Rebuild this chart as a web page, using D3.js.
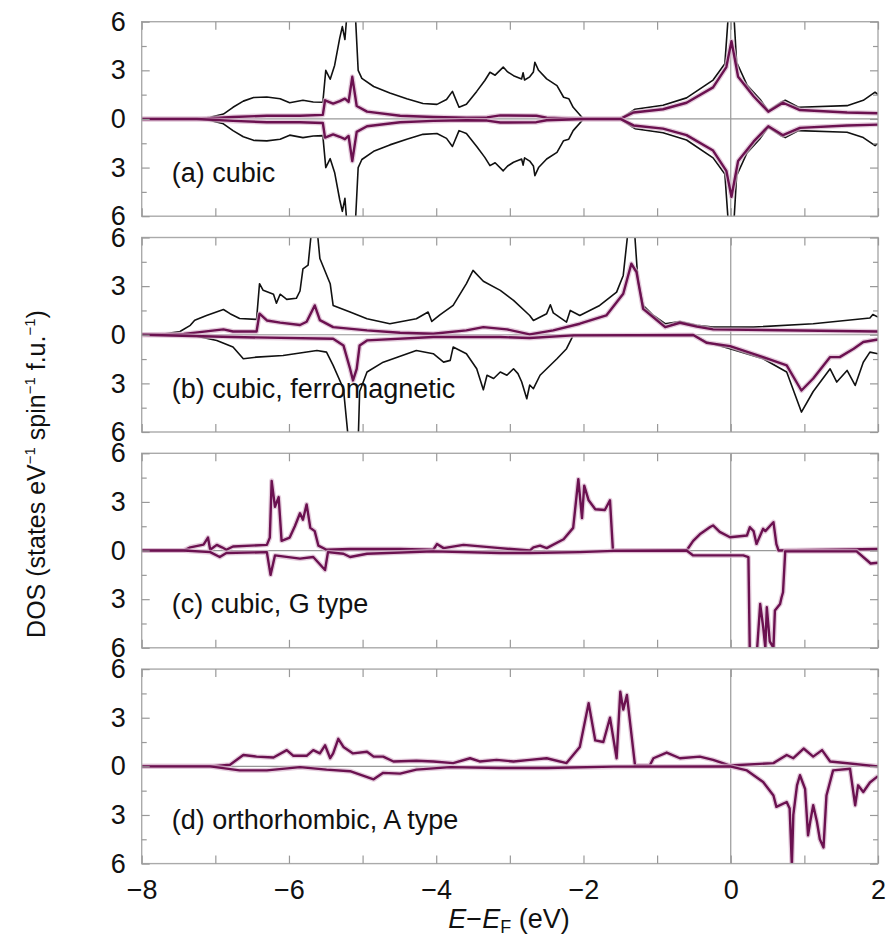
<!DOCTYPE html>
<html>
<head>
<meta charset="utf-8">
<script src="https://cdn.jsdelivr.net/npm/d3@7"></script>
<style>
	body { margin: 0; background: #fff; }
	text { font-family: "Liberation Sans", Arial, Helvetica, sans-serif; fill: #111; }
</style>
</head>
<body>
<div class="chart"></div>
<script>
// energies in eV, DOS in states/eV/spin/f.u.
const cubicTotal = [[-8,0],[-7.25,0],[-7.07,0.1],[-6.89,0.3],[-6.76,0.72],[-6.62,1.1],[-6.48,1.32],[-6.3,1.35],[-6.12,1.25],[-5.99,1.0],[-5.81,1.15],[-5.67,1.05],[-5.54,1.03],[-5.5,3.0],[-5.44,2.45],[-5.38,3.3],[-5.31,5.0],[-5.275,5.7],[-5.24,4.9],[-5.21,6.6],[-5.1,6.6],[-5.06,3.0],[-5.01,2.5],[-4.85,2.0],[-4.63,1.6],[-4.4,1.25],[-4.18,0.95],[-3.99,0.9],[-3.86,1.2],[-3.78,1.7],[-3.69,0.72],[-3.59,0.9],[-3.45,1.7],[-3.34,2.37],[-3.27,2.88],[-3.2,2.7],[-3.09,3.2],[-3.03,2.9],[-2.95,2.67],[-2.84,2.47],[-2.82,2.85],[-2.8,2.4],[-2.73,2.6],[-2.68,2.9],[-2.66,3.5],[-2.61,3.0],[-2.5,2.47],[-2.36,2.06],[-2.27,1.34],[-2.2,1.25],[-2.14,0.72],[-2.0,0],[-1.5,0],[-1.35,0.45],[-1.3,0.6],[-0.92,0.85],[-0.6,1.3],[-0.24,2.4],[-0.08,3.4],[-0.03,6.6],[0.04,6.6],[0.08,3.5],[0.22,2.1],[0.4,1.2],[0.51,0.5],[0.69,1.05],[0.74,1.15],[0.92,0.72],[1.58,0.82],[1.8,1.15],[1.96,1.65],[2.0,1.5]];
const cubicMn = [[-8,0],[-7.25,0],[-6.76,0.12],[-6.3,0.2],[-5.85,0.2],[-5.54,0.25],[-5.51,1.15],[-5.4,0.95],[-5.31,1.1],[-5.24,1.25],[-5.19,1.05],[-5.14,2.6],[-5.08,0.8],[-4.94,0.45],[-4.49,0.2],[-4.04,0.12],[-3.59,0.08],[-3.31,0.1],[-3.13,0.22],[-2.64,0.2],[-2.5,0.08],[-2.0,0],[-1.5,0],[-1.32,0.4],[-0.92,0.6],[-0.6,1.0],[-0.24,1.95],[-0.06,3.2],[0.01,4.8],[0.1,2.6],[0.31,1.4],[0.51,0.45],[0.71,1.0],[0.94,0.55],[1.58,0.4],[2.0,0.35]];

const fmTotalUp = [[-8,0],[-7.75,0.02],[-7.48,0.2],[-7.34,0.58],[-7.28,0.9],[-7.12,1.19],[-6.89,1.56],[-6.8,1.3],[-6.67,1.0],[-6.44,0.95],[-6.4,3.15],[-6.35,2.74],[-6.21,2.5],[-6.17,1.95],[-6.12,2.5],[-6.03,2.18],[-5.9,2.25],[-5.85,2.7],[-5.81,4.07],[-5.74,4.3],[-5.69,6.6],[-5.62,6.6],[-5.58,4.7],[-5.44,3.15],[-5.4,1.81],[-5.17,1.4],[-4.94,0.99],[-4.63,0.68],[-4.27,0.99],[-4.11,1.4],[-4.06,0.82],[-3.95,1.23],[-3.77,1.81],[-3.59,3.15],[-3.5,3.97],[-3.36,3.3],[-3.13,2.74],[-3.04,2.43],[-2.95,2.12],[-2.73,1.19],[-2.68,0.88],[-2.5,1.3],[-2.45,1.85],[-2.41,1.35],[-2.23,0.78],[-2.18,1.5],[-2.05,1.19],[-1.78,1.81],[-1.55,2.63],[-1.46,3.66],[-1.39,6.6],[-1.31,6.6],[-1.26,3.3],[-1.19,1.81],[-1.05,1.19],[-0.89,0.68],[-0.69,0.82],[-0.46,0.58],[-0.24,0.47],[0.31,0.47],[1.12,0.68],[1.89,1.03],[1.93,1.25],[2.0,1.09]];
const fmMnUp = [[-8,0],[-7.43,0.05],[-7.21,0.16],[-6.89,0.33],[-6.76,0.2],[-6.44,0.2],[-6.4,1.3],[-6.3,0.88],[-6.12,0.75],[-5.85,0.6],[-5.76,0.8],[-5.65,1.81],[-5.58,0.9],[-5.4,0.47],[-4.94,0.27],[-4.49,0.12],[-4.04,0.06],[-3.59,0.27],[-3.36,0.47],[-3.04,0.33],[-2.73,0.02],[-2.41,0.27],[-2.05,0.68],[-1.69,1.19],[-1.46,2.53],[-1.35,4.38],[-1.28,3.87],[-1.19,1.6],[-0.89,0.47],[-0.69,0.74],[-0.46,0.5],[-0.24,0.33],[2.0,0.2]];
const fmTotalDown = [[-8,0],[-7.3,0.04],[-6.98,0.35],[-6.76,0.76],[-6.62,1.48],[-6.44,1.38],[-6.08,1.28],[-5.62,0.97],[-5.49,1.07],[-5.4,1.89],[-5.26,3.33],[-5.19,6.6],[-5.06,6.6],[-5.04,3.5],[-4.94,2.3],[-4.72,1.69],[-4.27,0.97],[-4.04,1.17],[-3.9,1.69],[-3.81,1.58],[-3.77,0.76],[-3.59,1.17],[-3.45,2.1],[-3.36,3.4],[-3.31,2.5],[-3.22,2.7],[-3.13,2.3],[-3.04,2.5],[-2.95,2.1],[-2.89,2.4],[-2.84,2.9],[-2.77,3.95],[-2.73,3.1],[-2.68,3.33],[-2.59,2.5],[-2.36,1.48],[-2.23,0.86],[-2.14,0.04],[-0.51,0],[-0.33,0.45],[-0.01,0.86],[0.44,1.48],[0.76,2.3],[0.96,4.77],[1.12,3.5],[1.35,2.1],[1.44,2.92],[1.58,2.2],[1.69,3.13],[1.8,1.7],[1.89,1.07],[2.0,1.17]];
const fmMnDown = [[-8,0],[-6.76,0.14],[-5.4,0.25],[-5.26,0.66],[-5.17,2.1],[-5.13,2.82],[-5.08,2.1],[-5.04,0.66],[-4.94,0.35],[-4.04,0.14],[-3.13,0.14],[-2.73,0.2],[-2.14,0.04],[-0.51,0.02],[-0.33,0.49],[-0.01,0.7],[0.44,1.38],[0.76,1.89],[0.96,3.44],[1.12,2.7],[1.35,1.38],[1.48,1.38],[1.67,0.86],[1.8,0.45],[2.0,0.29]];

const gUp = [[-8,0],[-7.43,0],[-7.34,0.2],[-7.16,0.37],[-7.1,0.8],[-7.07,0.05],[-6.98,0.35],[-6.91,0.2],[-6.85,0.05],[-6.76,0.25],[-6.3,0.35],[-6.26,0.8],[-6.235,4.3],[-6.19,2.7],[-6.14,3.3],[-6.1,0.6],[-5.99,0.8],[-5.92,1.5],[-5.85,2.3],[-5.81,1.9],[-5.76,2.85],[-5.71,1.4],[-5.65,1.2],[-5.6,0.3],[-5.49,0.05],[-5.17,0.1],[-4.49,0.1],[-4.04,0.05],[-3.99,0.4],[-3.9,0.15],[-3.63,0.35],[-3.13,0.15],[-2.73,0.0],[-2.68,0.2],[-2.59,0.3],[-2.5,0.15],[-2.27,0.7],[-2.14,1.4],[-2.07,4.4],[-2.02,2.0],[-1.99,4.0],[-1.93,3.1],[-1.84,2.55],[-1.71,2.5],[-1.64,3.1],[-1.6,0],[-0.6,0],[-0.51,0.6],[-0.42,1.0],[-0.28,1.45],[-0.24,1.55],[-0.15,1.15],[-0.01,0.82],[0.22,0.93],[0.26,1.44],[0.31,1.2],[0.35,0.41],[0.44,1.34],[0.47,1.2],[0.56,1.65],[0.58,1.75],[0.62,0.4],[0.65,0],[2.0,0.1]];
const gDown = [[-8,0],[-7.43,0],[-7.07,0.1],[-6.94,0.4],[-6.85,0.15],[-6.3,0.1],[-6.25,1.5],[-6.19,0.3],[-5.85,0.5],[-5.67,0.4],[-5.51,1.2],[-5.47,0.1],[-5.26,0.2],[-5.17,0.4],[-4.94,0.2],[-4.04,0.05],[-3.13,0.15],[-2.73,0.15],[-2.05,0.1],[-1.59,0.02],[-0.6,0],[-0.51,0.3],[-0.24,0.3],[0.17,0.3],[0.24,0.4],[0.26,6.6],[0.35,6.6],[0.4,3.3],[0.44,4.7],[0.47,6.0],[0.49,3.5],[0.53,5.6],[0.58,6.0],[0.6,3.7],[0.67,3.3],[0.69,2.9],[0.71,2.57],[0.74,0.05],[1.71,0.05],[1.85,0.6],[1.9,0.8],[2.0,0.75]];

const aUp = [[-8,0],[-7.07,0],[-6.8,0.1],[-6.62,0.7],[-6.44,0.6],[-6.21,0.55],[-6.03,1.0],[-5.94,0.65],[-5.76,0.65],[-5.67,1.0],[-5.58,0.8],[-5.51,1.3],[-5.44,0.5],[-5.4,0.8],[-5.33,1.7],[-5.26,1.2],[-5.13,0.8],[-4.94,0.9],[-4.85,0.6],[-4.72,0.6],[-4.58,0.3],[-4.27,0.35],[-4.04,0.3],[-3.77,0.2],[-3.54,0.5],[-3.41,0.3],[-3.18,0.4],[-2.95,0.3],[-2.73,0.4],[-2.5,0.5],[-2.23,0.2],[-2.05,1.2],[-1.93,3.9],[-1.84,1.6],[-1.73,1.5],[-1.64,3.0],[-1.55,0.5],[-1.5,4.6],[-1.46,3.5],[-1.41,4.4],[-1.3,0.05],[-1.1,0.05],[-1.05,0.5],[-0.87,0.85],[-0.69,0.5],[-0.42,0.6],[-0.24,0.4],[-0.01,0.05],[0.58,0.2],[0.76,0.7],[0.85,0.5],[0.99,1.1],[1.12,0.6],[1.24,1.0],[1.35,0.3],[2.0,0.0]];
const aDown = [[-8,0],[-7.07,0],[-6.67,0.25],[-6.3,0.25],[-5.85,0.05],[-5.49,0.2],[-5.17,0.3],[-4.85,0.8],[-4.72,0.4],[-4.49,0.45],[-4.27,0.2],[-3.81,0.05],[-3.13,0.1],[-2.5,0.1],[-1.59,0.02],[-0.01,0],[0.22,0.25],[0.44,0.97],[0.58,1.8],[0.62,2.5],[0.76,2.2],[0.8,2.6],[0.83,6.1],[0.85,3.0],[0.9,1.17],[0.94,0.55],[1.01,1.4],[1.05,4.26],[1.08,3.4],[1.12,2.4],[1.17,3.4],[1.21,4.5],[1.26,5.0],[1.3,1.8],[1.39,0.25],[1.62,0.15],[1.69,2.4],[1.73,1.17],[1.8,1.58],[1.89,1.0],[2.0,0.6]];

const panelLabels = ["(a) cubic", "(b) cubic, ferromagnetic", "(c) cubic, G type", "(d) orthorhombic, A type"];
const xTicks = [-8, -7, -6, -5, -4, -3, -2, -1, 0, 1, 2];
const xTickLabels = ["\u22128", "", "\u22126", "", "\u22124", "", "\u22122", "", "0", "", "2"];
const yMajorTicks = [-6, -3, 0, 3, 6];
const yTickLabels = ["6", "3", "0", "3", "6"];
const yMinorTicks = [-4.5, -1.5, 1.5, 4.5];

// [data, spin sign, kind]
const panelCurves = [
	[[cubicTotal, 1, "total"], [cubicTotal, -1, "total"], [cubicMn, 1, "mn"], [cubicMn, -1, "mn"]],
	[[fmTotalUp, 1, "total"], [fmTotalDown, -1, "total"], [fmMnUp, 1, "mn"], [fmMnDown, -1, "mn"]],
	[[gUp, 1, "mn"], [gDown, -1, "mn"]],
	[[aUp, 1, "mn"], [aDown, -1, "mn"]]
];

const left = 141.7, right = 878;
const firstTop = 21.7, panelStep = 215.8, panelHeight = 194.5;
const width = right - left;
const font = "'Liberation Sans', Arial, Helvetica, sans-serif";
const fontSize = 27;
const purple = "#6b1150";

const svg = d3.select(".chart")
	.append("svg")
	.attr("width", 887)
	.attr("height", 940);

svg.append("defs")
	.append("clipPath")
		.attr("id", "plot-clip")
	.append("rect")
		.attr("width", width)
		.attr("height", panelHeight);

const x = d3.scaleLinear().domain([-8, 2]).range([0, width]);
const y = d3.scaleLinear().domain([-6, 6]).range([panelHeight, 0]);

const styleAxis = (g) => {
	g.select(".domain").remove();
	g.attr("font-size", fontSize).attr("font-family", font);
	g.selectAll(".tick line").attr("stroke", "#999").attr("stroke-width", 1.2);
	g.selectAll(".tick text").attr("fill", "#111");
};

panelCurves.forEach((curves, i) => {
	const g = svg.append("g")
		.attr("transform", `translate(${left},${firstTop + i * panelStep})`);

	// zero lines
	g.append("line")
		.attr("x1", 0).attr("x2", width)
		.attr("y1", y(0)).attr("y2", y(0))
		.attr("stroke", "#999").attr("stroke-width", 1.2);
	g.append("line")
		.attr("x1", x(0)).attr("x2", x(0))
		.attr("y1", 0).attr("y2", panelHeight)
		.attr("stroke", "#999").attr("stroke-width", 1.2);

	const plot = g.append("g").attr("clip-path", "url(#plot-clip)");

	curves.forEach(([data, sign, kind]) => {
		const line = d3.line()
			.x((d) => x(d[0]))
			.y((d) => y(sign * d[1]));
		if (kind === "mn") {
			plot.append("path")
				.attr("d", line(data))
				.attr("fill", "none")
				.attr("stroke", "#d9b6cd")
				.attr("stroke-width", 5)
				.attr("stroke-linejoin", "round")
				.attr("opacity", 0.7);
			plot.append("path")
				.attr("d", line(data))
				.attr("fill", "none")
				.attr("stroke", purple)
				.attr("stroke-width", 2.4)
				.attr("stroke-linejoin", "round");
		} else {
			plot.append("path")
				.attr("d", line(data))
				.attr("fill", "none")
				.attr("stroke", "#111")
				.attr("stroke-width", 1.6)
				.attr("stroke-linejoin", "round");
		}
	});

	// frame
	g.append("rect")
		.attr("width", width)
		.attr("height", panelHeight)
		.attr("fill", "none")
		.attr("stroke", "#aaa")
		.attr("stroke-width", 1.4);

	// y axes, ticks pointing inward
	g.append("g")
		.call(d3.axisLeft(y).tickValues(yMajorTicks).tickSize(-8).tickPadding(16)
			.tickFormat((d, k) => yTickLabels[k]))
		.call(styleAxis);
	g.append("g")
		.call(d3.axisLeft(y).tickValues(yMinorTicks).tickSize(-5).tickFormat(""))
		.call(styleAxis);
	g.append("g")
		.attr("transform", `translate(${width},0)`)
		.call(d3.axisRight(y).tickValues(yMajorTicks).tickSize(-8).tickFormat(""))
		.call(styleAxis);
	g.append("g")
		.attr("transform", `translate(${width},0)`)
		.call(d3.axisRight(y).tickValues(yMinorTicks).tickSize(-5).tickFormat(""))
		.call(styleAxis);

	// x axes
	const last = i === panelCurves.length - 1;
	g.append("g")
		.attr("transform", `translate(0,${panelHeight})`)
		.call(d3.axisBottom(x).tickValues(xTicks).tickSize(-8).tickPadding(16)
			.tickFormat((d, k) => last ? xTickLabels[k] : ""))
		.call(styleAxis);
	g.append("g")
		.call(d3.axisTop(x).tickValues(xTicks).tickSize(-8).tickFormat(""))
		.call(styleAxis);

	g.append("text")
		.attr("x", 30)
		.attr("y", 160)
		.attr("font-size", fontSize)
		.attr("font-family", font)
		.text(panelLabels[i]);
});

// axis titles
const xTitle = svg.append("text")
	.attr("x", 509)
	.attr("y", 928)
	.attr("text-anchor", "middle")
	.attr("font-size", fontSize)
	.attr("font-family", font);
xTitle.append("tspan").attr("font-style", "italic").text("E");
xTitle.append("tspan").text("\u2212");
xTitle.append("tspan").attr("font-style", "italic").text("E");
xTitle.append("tspan").attr("font-size", 18).attr("dy", 5).text("F");
xTitle.append("tspan").attr("dy", -5).text(" (eV)");

const yTitle = svg.append("text")
	.attr("transform", "translate(45,474) rotate(-90)")
	.attr("text-anchor", "middle")
	.attr("font-size", 25)
	.attr("font-family", font);
yTitle.append("tspan").text("DOS (states eV");
yTitle.append("tspan").attr("font-size", 15).attr("dy", -10).text("\u22121");
yTitle.append("tspan").attr("dy", 10).text(" spin");
yTitle.append("tspan").attr("font-size", 15).attr("dy", -10).text("\u22121");
yTitle.append("tspan").attr("dy", 10).text(" f.u.");
yTitle.append("tspan").attr("font-size", 15).attr("dy", -10).text("\u22121");
yTitle.append("tspan").attr("dy", 10).text(")");
</script>
</body>
</html>
